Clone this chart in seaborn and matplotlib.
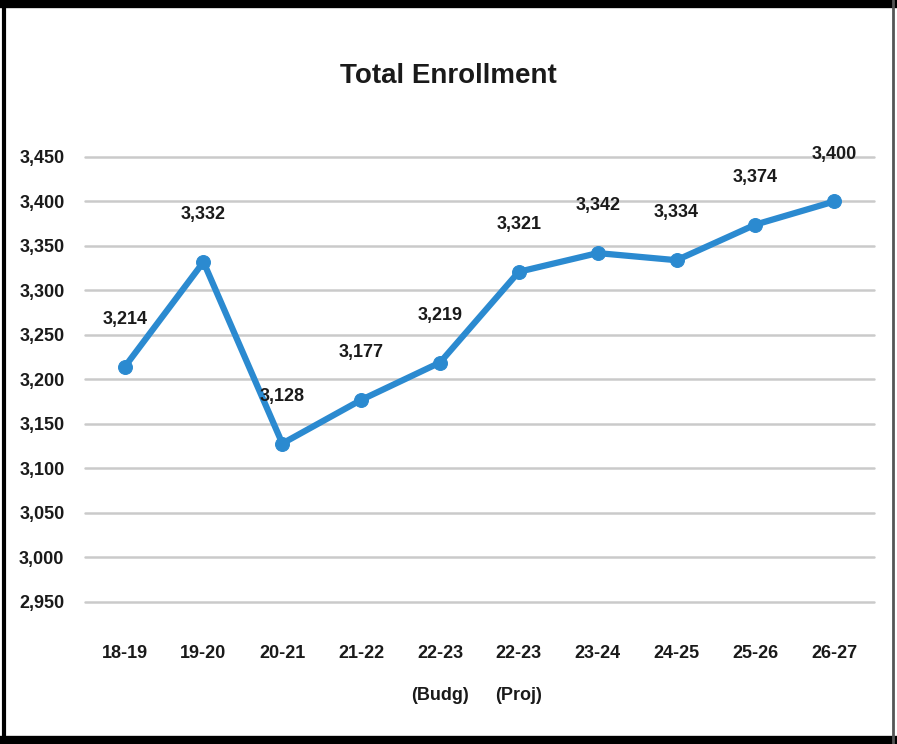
import matplotlib
matplotlib.use("Agg")
import matplotlib.pyplot as plt
from matplotlib.lines import Line2D
import pandas as pd
import seaborn as sns

# Total enrollment by year
years = ["18-19", "19-20", "20-21", "21-22", "22-23\n(Budg)", "22-23\n(Proj)",
         "23-24", "24-25", "25-26", "26-27"]
enrollment = [3214, 3332, 3128, 3177, 3219, 3321, 3342, 3334, 3374, 3400]
yticks = list(range(2950, 3451, 50))

df = pd.DataFrame({"year": years, "enrollment": enrollment})

sns.set_style("white")
plt.rcParams["font.family"] = ["Liberation Sans", "DejaVu Sans"]

fig = plt.figure(figsize=(8.97, 7.44), dpi=100)
ax = fig.add_axes([0.095, 0.191, 0.879, 0.598])

blue = "#2b8ad0"
sns.lineplot(data=df, x="year", y="enrollment", sort=False, ax=ax,
             color=blue, linewidth=4.5, marker="o", markersize=10,
             markeredgecolor=blue)

for i, v in enumerate(enrollment):
    ax.annotate(f"{v:,}", (i, v), xytext=(0, 34), textcoords="offset points",
                ha="center", va="center", fontsize=13, fontweight="bold",
                color="#1a1a1a")

ax.set_ylim(2950, 3450)
ax.set_xlim(-0.5, len(years) - 0.5)
ax.set_yticks(yticks)
ax.set_yticklabels([f"{t:,}" for t in yticks])
ax.yaxis.grid(True, color="#cacaca", linewidth=1.8)
for gl in ax.get_ygridlines():
    gl.set_clip_on(False)
ax.set_axisbelow(True)
for s in ax.spines.values():
    s.set_visible(False)
ax.tick_params(axis="y", length=0, pad=15, labelsize=13, labelcolor="#1a1a1a")
ax.tick_params(axis="x", length=0, pad=31, labelsize=13, labelcolor="#1a1a1a")
for lab in ax.get_yticklabels() + ax.get_xticklabels():
    lab.set_fontweight("bold")
for lab in ax.get_xticklabels():
    lab.set_linespacing(2.9)
ax.set_xlabel("")
ax.set_ylabel("")

fig.text(0.5, 0.898, "Total Enrollment", ha="center", va="center",
         fontsize=20, fontweight="bold", color="#1a1a1a")

# scanned page frame
for xs, ys, lw, c in [((0, 1), (0.995, 0.995), 6, "black"),
                      ((0, 1), (0.005, 0.005), 6, "black"),
                      ((0.005, 0.005), (0, 1), 3, "black"),
                      ((0.996, 0.996), (0, 1), 2, "#555555")]:
    fig.add_artist(Line2D(xs, ys, transform=fig.transFigure, linewidth=lw, color=c))

fig.savefig("out.png", dpi=100)
